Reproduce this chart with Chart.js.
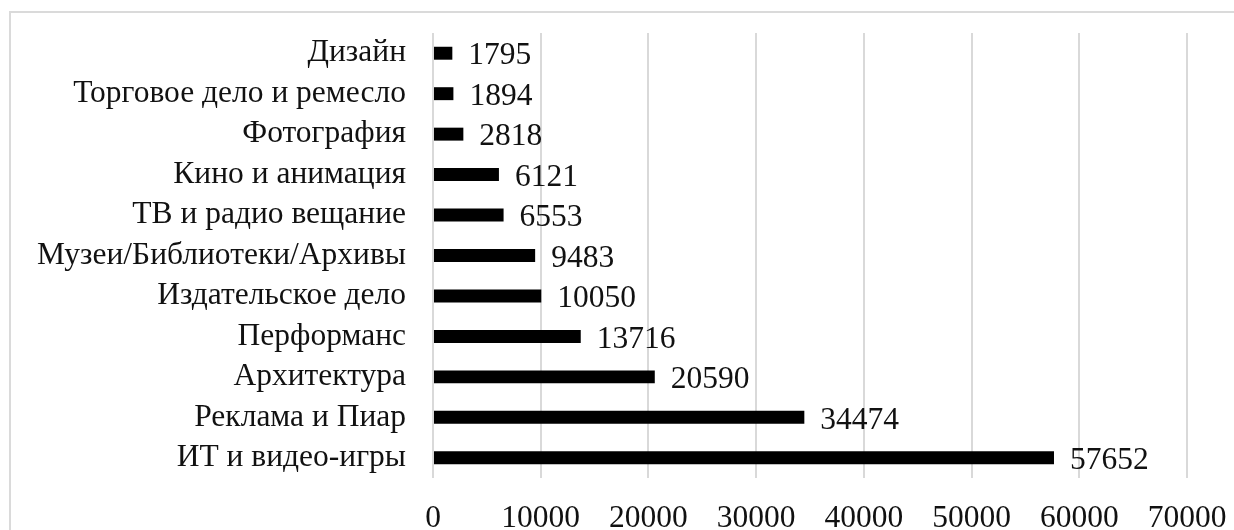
<!DOCTYPE html>
<html>
<head>
<meta charset="utf-8">
<script src="https://cdn.jsdelivr.net/npm/chart.js@4.4.1/dist/chart.umd.min.js"></script>
<style>
  html, body { margin: 0; padding: 0; background: #ffffff; overflow: hidden; }
  #wrap { position: relative; width: 1234px; height: 530px; }
  #frame { position: absolute; left: 9px; top: 11px; width: 1300px; height: 600px;
           border-left: 2px solid #dadada; border-top: 2px solid #dadada; box-sizing: border-box; }
  #c { position: absolute; left: 0; top: 0; }
</style>
</head>
<body>
<div id="wrap">
  <div id="frame"></div>
  <canvas id="c" width="1234" height="530"></canvas>
</div>
<script>
const categories = [
  "Дизайн",
  "Торговое дело и ремесло",
  "Фотография",
  "Кино и анимация",
  "ТВ и радио вещание",
  "Музеи/Библиотеки/Архивы",
  "Издательское дело",
  "Перформанс",
  "Архитектура",
  "Реклама и Пиар",
  "ИТ и видео-игры"
];
const values = [1795, 1894, 2818, 6121, 6553, 9483, 10050, 13716, 20590, 34474, 57652];
const xTicks = [0, 10000, 20000, 30000, 40000, 50000, 60000, 70000];

const FONT = "'Liberation Serif', 'Times New Roman', serif";
const FSIZE = 31.5;

function zeroPad(scale) {
  scale.paddingTop = 0; scale.paddingBottom = 0;
  scale.paddingLeft = 0; scale.paddingRight = 0;
}

const valueLabels = {
  id: 'valueLabels',
  afterDatasetsDraw(chart) {
    const ctx = chart.ctx;
    const meta = chart.getDatasetMeta(0);
    ctx.save();
    ctx.font = FSIZE + "px " + FONT;
    ctx.fillStyle = "#111111";
    ctx.textAlign = "left";
    ctx.textBaseline = "middle";
    meta.data.forEach((bar, i) => {
      ctx.fillText(String(values[i]), bar.x + 16, bar.y + 3);
    });
    ctx.restore();
  }
};

new Chart(document.getElementById('c'), {
  type: 'bar',
  data: {
    labels: categories,
    datasets: [{
      data: values,
      backgroundColor: '#000000',
      borderWidth: 0,
      barPercentage: 0.32,
      categoryPercentage: 1.0
    }]
  },
  options: {
    indexAxis: 'y',
    responsive: false,
    animation: false,
    devicePixelRatio: 1,
    layout: { padding: { top: 33, right: 47, bottom: 0, left: 0 } },
    plugins: { legend: { display: false }, tooltip: { enabled: false } },
    scales: {
      x: {
        min: 0, max: 70000,
        afterBuildTicks(scale) { scale.ticks = xTicks.map(v => ({ value: v })); },
        afterFit(scale) { scale.height = 52; zeroPad(scale); },
        border: { display: false },
        grid: { color: '#d9d9d9', lineWidth: 2, drawTicks: false },
        ticks: {
          padding: 22,
          color: '#111111',
          font: { family: FONT, size: FSIZE },
          maxRotation: 0,
          autoSkip: false,
          callback: (v) => String(v)
        }
      },
      y: {
        afterFit(scale) { scale.width = 433; zeroPad(scale); },
        border: { display: false },
        grid: { display: false, drawTicks: false },
        ticks: {
          padding: 27,
          color: '#111111',
          font: { family: FONT, size: FSIZE },
          autoSkip: false
        }
      }
    }
  },
  plugins: [valueLabels]
});
</script>
</body>
</html>
